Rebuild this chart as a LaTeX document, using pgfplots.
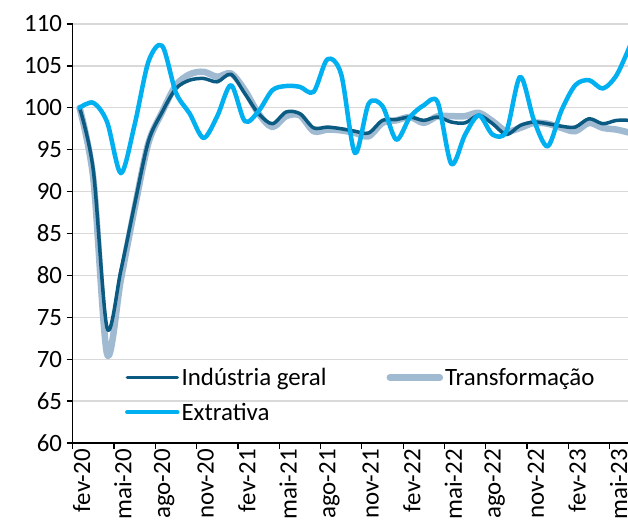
\documentclass[border=0pt]{standalone}
\usepackage{fontspec}
\setmainfont{Carlito}
\usepackage{pgfplots}
\pgfplotsset{compat=1.18}
\usepackage{pgfplotstable}

\definecolor{geralc}{HTML}{0A5A82}
\definecolor{transc}{HTML}{A0BAD2}
\definecolor{extrc}{HTML}{00B0F0}
\definecolor{gridc}{HTML}{D9D9D9}

\pgfplotstableread{
i g t e
0 100 100 100
1 92.5 91.5 100.6
2 73.7 70.6 98.3
3 80.6 79.5 92.2
4 88.5 88.0 98.0
5 96.0 95.8 105.5
6 99.5 99.5 107.4
7 102.3 102.7 101.8
8 103.3 104.0 99.3
9 103.5 104.3 96.4
10 103.1 103.7 99.0
11 104.0 104.1 102.7
12 101.7 102.1 98.4
13 99.3 99.3 99.6
14 98.1 97.7 102.1
15 99.5 99.0 102.6
16 99.3 99.1 102.5
17 97.6 97.2 101.9
18 97.7 97.4 105.8
19 97.5 97.3 104.0
20 97.2 97.0 94.6
21 97.0 96.6 100.5
22 98.5 98.2 100.2
23 98.6 98.5 96.2
24 98.9 98.9 98.9
25 98.5 98.2 100.3
26 98.9 99.0 100.7
27 98.3 99.0 93.3
28 98.2 99.0 96.8
29 99.1 99.4 99.1
30 98.1 98.4 96.8
31 96.8 97.2 97.2
32 97.9 97.6 103.7
33 98.3 98.2 98.5
34 98.1 98.1 95.4
35 97.8 97.6 99.7
36 97.7 97.2 102.7
37 98.7 98.2 103.3
38 98.1 97.6 102.3
39 98.5 97.4 103.9
40 98.5 97.0 107.5
}\data

\begin{document}
\begin{tikzpicture}
\begin{axis}[
  scale only axis,
  width=555.3bp, height=419bp,
  xmin=-0.5, xmax=39.83, ymin=60, ymax=110,
  axis x line*=bottom, axis y line*=left,
  axis line style={black, line width=1.3bp},
  tick align=outside,
  major tick length=6bp, minor tick length=6bp,
  ytick={60,65,...,110},
  ymajorgrids,
  grid style={gridc, line width=1.3bp},
  xtick={0,3,...,39},
  xticklabels={fev-20,mai-20,ago-20,nov-20,fev-21,mai-21,ago-21,nov-21,fev-22,mai-22,ago-22,nov-22,fev-23,mai-23},
  minor xtick={-0.5,2.5,...,38.5},
  major x tick style={draw=none},
  minor x tick style={black, line width=1.3bp},
  ytick style={black, line width=1.3bp},
  /pgf/number format/assume math mode=true,
  every tick label/.append style={font=\fontsize{25}{29}\selectfont},
  yticklabel style={inner sep=0pt, xshift=-4.5bp},
  xticklabel style={rotate=90, anchor=east, inner sep=0pt, yshift=-2bp},
  legend columns=2,
  legend style={at={(0.094,0.184)}, anchor=north west, draw=none, fill=none,
    inner sep=0pt, font=\fontsize{25}{29}\selectfont,
    /tikz/every even column/.append style={column sep=58bp},
    row sep=12bp},
  legend cell align=left,
  legend image code/.code={\draw[#1, line cap=round] (0bp,0bp) -- (50bp,0bp);},
]
\coordinate (sw) at (rel axis cs:0,0);
\coordinate (ne) at (rel axis cs:1,1);
\addlegendimage{geralc, line width=3.5bp}
\addlegendentry{Indústria geral}
\addlegendimage{transc, line width=6.5bp}
\addlegendentry{Transformação}
\addlegendimage{extrc, line width=4.5bp}
\addlegendentry{Extrativa}
\addplot[transc, line width=6.5bp, smooth, line join=round, line cap=round, forget plot] table[x=i, y=t]{\data};
\addplot[geralc, line width=3.5bp, smooth, line join=round, line cap=round, forget plot] table[x=i, y=g]{\data};
\addplot[extrc, line width=4.5bp, smooth, line join=round, line cap=round, forget plot] table[x=i, y=e]{\data};
\end{axis}
\pgfresetboundingbox
\path[use as bounding box] ([xshift=-72.7bp,yshift=-80bp]sw) rectangle ([yshift=24bp]ne);
\end{tikzpicture}
\end{document}
